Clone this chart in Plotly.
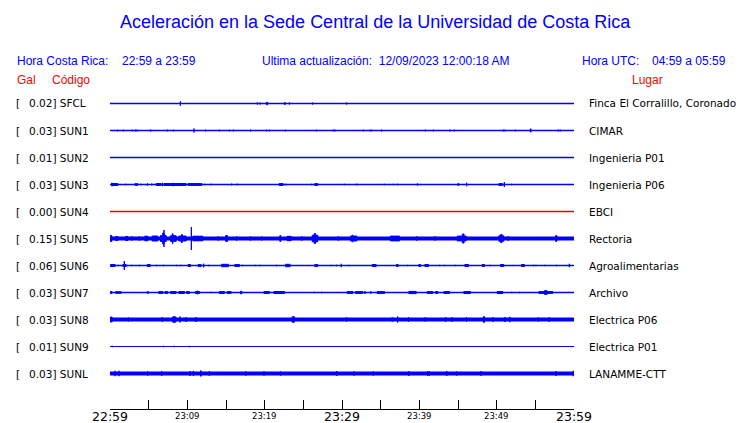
import plotly.graph_objects as go

W, H = 740, 423

TITLE = "Aceleración en la Sede Central de la Universidad de Costa Rica"
CODES = ["SFCL", "SUN1", "SUN2", "SUN3", "SUN4", "SUN5", "SUN6", "SUN7", "SUN8", "SUN9", "SUNL"]
GAL = [0.02, 0.03, 0.01, 0.03, 0.00, 0.15, 0.06, 0.03, 0.03, 0.01, 0.03]
PLACES = ["Finca El Corralillo, Coronado", "CIMAR", "Ingenieria P01", "Ingenieria P06", "EBCI",
          "Rectoria", "Agroalimentarias", "Archivo", "Electrica P06", "Electrica P01", "LANAMME-CTT"]
TICK_MIN = [0, 10, 20, 30, 40, 50, 60]
TICK_TEXT = ["22:59", "23:09", "23:19", "23:29", "23:39", "23:49", "23:59"]
TICK_BIG = [True, False, False, True, False, False, True]

# events: (start minute, end minute, half amplitude)
EV_SFCL = [(9.1, 9.1, 2.7), (16.8, 16.8, 0.8), (19.05, 19.05, 1.5), (19.4, 19.4, 1.5), (20.15, 20.45, 1.7),
           (22.45, 22.75, 1.3), (23.2, 23.2, 1.5), (26.2, 26.2, 1.5), (30.6, 30.6, 1.5)]
EV_SUN1 = [(0.99, 0.99, 1.3), (1.72, 1.72, 1.3), (2.89, 2.89, 1.3), (3.28, 3.28, 1.3), (3.49, 3.49, 1.3),
           (5.2, 5.35, 1.3), (7.41, 7.41, 1.3), (8.19, 8.19, 1.3), (10.86, 10.86, 2.5), (12.3, 12.45, 1.3),
           (14.14, 14.14, 1.3), (15.43, 15.43, 1.3), (15.95, 15.95, 1.3), (17.37, 17.37, 0.8), (18.1, 18.25, 1.3),
           (20.22, 20.22, 1.3), (20.6, 20.6, 1.3), (22.67, 22.67, 1.3), (25.65, 25.65, 0.8), (26.68, 26.68, 1.3),
           (27.59, 27.59, 0.8), (28.88, 28.88, 1.3), (29.09, 29.09, 1.3), (30.04, 30.04, 0.8), (32.76, 32.76, 1.3),
           (33.62, 33.62, 1.3), (33.84, 33.84, 1.3), (35.05, 35.2, 1.3), (37.16, 37.16, 0.8), (38.71, 38.71, 0.8),
           (40.78, 40.78, 1.3), (41.81, 41.81, 1.3), (43.97, 43.97, 1.3), (44.53, 44.53, 1.3), (46.85, 46.85, 0.8),
           (49.57, 49.57, 0.8), (50.86, 50.86, 1.3), (51.08, 51.08, 1.3), (52.41, 52.41, 1.3), (54.25, 54.5, 1.6),
           (54.4, 54.4, 2.3), (57.33, 57.33, 1.0), (57.97, 57.97, 1.3), (58.23, 58.23, 1.3)]
EV_SUN2 = []
EV_SUN3 = [(0.13, 1.08, 1.5), (0.25, 0.25, 2.2), (2.03, 2.03, 1.2), (3.15, 3.66, 1.3), (3.97, 3.97, 1.2),
           (4.4, 4.4, 1.0), (4.74, 4.96, 1.3), (5.39, 5.39, 1.3), (5.9, 6.68, 1.5), (6.77, 6.77, 2.2),
           (6.9, 9.91, 1.5), (8.19, 8.19, 2.2), (10.04, 11.94, 1.4), (12.2, 12.2, 1.2), (12.72, 12.72, 1.0),
           (13.06, 13.06, 1.2), (13.49, 13.49, 0.8), (15.09, 15.09, 1.0), (15.3, 15.3, 1.0), (15.73, 15.73, 1.3),
           (16.47, 16.47, 1.3), (17.16, 17.16, 1.0), (17.89, 17.89, 1.0), (20.22, 20.22, 0.8), (21.81, 22.46, 1.4),
           (22.76, 22.76, 1.3), (23.49, 23.49, 1.0), (24.18, 24.18, 1.0), (24.35, 24.35, 1.0), (24.96, 24.96, 1.0),
           (26.08, 26.08, 1.2), (26.42, 26.94, 1.4), (28.19, 28.19, 0.8), (30.3, 30.3, 1.2), (31.16, 31.16, 1.0),
           (31.9, 31.9, 1.3), (35.47, 35.47, 1.2), (36.64, 36.64, 1.2), (37.16, 37.16, 1.2), (39.66, 39.87, 1.3),
           (43.75, 43.75, 0.8), (44.53, 44.53, 1.0), (44.9, 45.2, 1.3), (46.12, 46.12, 2.2), (48.1, 48.1, 1.0),
           (50.22, 50.8, 1.4), (50.99, 50.99, 3.0), (51.94, 51.94, 1.2)]
EV_SUN4 = []
EV_SUN5 = [(0.0, 0.3, 3.5), (0.65, 1.08, 2.5), (1.94, 2.37, 2.5), (2.8, 2.8, 2.7), (3.79, 3.79, 2.7),
           (4.44, 4.96, 2.8), (5.39, 6.25, 3.0), (6.47, 7.33, 3.5), (6.75, 7.05, 6.0), (6.98, 6.98, 9.0),
           (7.76, 8.62, 3.3), (8.0, 8.2, 5.5), (8.84, 9.91, 3.0), (9.25, 9.35, 4.5), (10.52, 10.52, 12.0),
           (10.65, 12.07, 2.8), (14.0, 14.0, 2.7), (14.9, 15.25, 3.5), (16.38, 16.38, 2.7), (18.19, 18.19, 2.7),
           (19.61, 19.61, 2.5), (21.9, 22.15, 3.5), (22.84, 23.49, 2.7), (24.78, 24.78, 2.7), (26.08, 26.94, 3.8),
           (26.35, 26.65, 5.5), (29.53, 29.53, 2.7), (31.03, 31.98, 3.0), (31.25, 31.45, 4.0), (36.2, 37.5, 2.9),
           (39.66, 39.66, 2.7), (42.03, 42.03, 2.7), (44.83, 46.12, 2.9), (45.5, 45.85, 5.0), (50.22, 50.99, 3.2),
           (50.45, 50.75, 4.6), (51.51, 51.51, 3.0), (57.54, 57.89, 2.8), (57.7, 57.7, 4.0)]
EV_SUN6 = [(0.0, 0.73, 1.5), (1.08, 1.08, 1.2), (1.6, 2.16, 1.5), (1.85, 1.85, 5.0), (2.8, 2.8, 1.2),
           (3.79, 3.79, 1.2), (4.74, 5.26, 1.5), (6.03, 6.03, 1.2), (6.9, 6.9, 1.2), (8.19, 8.19, 1.0),
           (8.62, 8.62, 1.2), (9.18, 9.18, 1.2), (10.04, 10.47, 1.5), (11.34, 11.85, 1.5), (12.11, 12.11, 2.3),
           (12.8, 12.8, 1.2), (14.35, 15.39, 1.7), (16.08, 16.81, 1.5), (17.16, 17.16, 1.2), (18.75, 18.75, 1.2),
           (19.4, 19.4, 1.2), (21.12, 21.12, 1.0), (21.55, 21.55, 1.2), (22.63, 23.36, 1.7), (25.09, 25.09, 1.0),
           (26.42, 26.94, 1.5), (28.15, 28.15, 1.0), (28.58, 28.58, 1.2), (29.31, 29.31, 1.2), (29.91, 29.91, 2.2),
           (30.9, 30.9, 1.2), (32.59, 32.59, 1.0), (33.84, 34.48, 1.5), (35.56, 35.56, 0.8), (36.98, 37.33, 1.5),
           (38.49, 38.49, 1.2), (39.87, 40.22, 1.5), (40.65, 41.25, 1.5), (41.94, 41.94, 1.0), (42.63, 42.63, 1.2),
           (43.23, 43.23, 1.2), (44.09, 44.09, 1.0), (44.61, 44.61, 1.2), (45.82, 46.42, 1.5), (48.06, 48.49, 1.5),
           (49.14, 49.14, 1.2), (50.43, 50.99, 1.5), (53.15, 53.66, 1.5), (54.74, 54.74, 1.2), (55.09, 55.09, 1.2),
           (56.25, 56.25, 1.2), (57.76, 57.76, 1.2), (59.4, 59.4, 2.2)]
EV_SUN7 = [(0.0, 0.3, 1.5), (0.65, 1.51, 1.3), (1.85, 1.85, 1.0), (4.18, 4.18, 1.0), (4.74, 5.04, 1.3),
           (5.6, 5.6, 1.0), (6.25, 6.9, 1.4), (7.03, 7.54, 1.4), (7.76, 8.62, 1.4), (8.84, 9.7, 1.5),
           (9.83, 10.34, 1.4), (10.99, 11.64, 1.5), (11.3, 11.3, 2.3), (12.37, 12.37, 1.0), (13.06, 13.06, 1.2),
           (14.09, 14.87, 1.4), (15.09, 15.73, 1.4), (16.81, 17.11, 1.8), (17.67, 17.67, 1.0), (19.83, 20.69, 1.4),
           (21.12, 22.63, 1.5), (25.22, 25.22, 1.0), (26.42, 26.42, 1.2), (27.37, 27.37, 1.2), (29.53, 29.53, 1.0),
           (30.6, 31.47, 1.4), (31.68, 32.76, 1.4), (32.97, 32.97, 2.0), (33.62, 33.84, 1.3), (34.48, 35.56, 1.4),
           (38.58, 39.66, 1.6), (38.9, 38.9, 2.0), (40.95, 41.81, 1.4), (42.03, 42.46, 1.4), (43.1, 43.97, 1.4),
           (45.69, 46.68, 1.5), (47.72, 47.72, 1.0), (50.0, 50.86, 1.5), (51.59, 51.59, 1.0), (51.94, 51.94, 1.2),
           (52.93, 52.93, 1.2), (55.39, 57.33, 1.4), (56.1, 56.6, 2.3)]
EV_SUN8 = [(0.0, 0.35, 3.0), (2.37, 2.37, 2.5), (6.76, 6.76, 3.0), (8.0, 8.6, 3.0), (8.3, 8.3, 4.0),
           (9.05, 9.05, 3.5), (9.83, 9.83, 3.0), (11.12, 11.12, 3.0), (23.5, 23.9, 3.3), (30.6, 30.6, 2.7),
           (36.5, 36.5, 2.8), (37.2, 37.2, 3.5), (38.6, 38.6, 3.0), (40.74, 40.74, 2.6), (43.4, 43.4, 3.0),
           (44.2, 44.2, 2.8), (46.1, 46.1, 3.0), (48.2, 48.5, 3.3), (49.5, 49.5, 3.0), (51.07, 51.07, 3.0),
           (51.7, 51.7, 3.2), (55.4, 55.4, 2.6), (56.8, 56.8, 3.0)]
EV_SUN9 = [(0.3, 0.3, 1.2), (6.9, 6.9, 1.2), (8.3, 8.3, 1.2), (10.25, 10.25, 1.2), (11.93, 11.93, 1.0),
           (20.26, 20.26, 1.0), (22.72, 22.72, 1.0), (23.4, 23.4, 1.0), (35.8, 35.8, 1.0), (51.0, 51.0, 1.0)]
EV_SUNL = [(0.65, 0.65, 3.2), (1.16, 1.16, 3.2), (4.87, 4.87, 2.6), (6.68, 6.68, 3.0), (10.35, 10.35, 3.0),
           (10.78, 10.78, 3.0), (11.64, 11.86, 3.2), (12.84, 12.84, 2.8), (17.55, 17.55, 2.6), (19.91, 19.91, 2.6),
           (22.07, 22.07, 2.6), (29.32, 29.32, 3.0), (31.55, 31.55, 2.6), (34.05, 34.05, 2.6), (38.66, 38.66, 3.0),
           (41.08, 41.08, 2.8), (41.28, 41.28, 2.8), (43.54, 43.54, 3.0), (44.83, 44.83, 2.6), (47.97, 47.97, 2.8),
           (57.67, 57.67, 3.0), (59.91, 59.91, 3.2)]

EVENTS = [EV_SFCL, EV_SUN1, EV_SUN2, EV_SUN3, EV_SUN4, EV_SUN5, EV_SUN6, EV_SUN7, EV_SUN8, EV_SUN9, EV_SUNL]

# styles
BLUE = "#0000ff"
RED = "#ff0000"
LINE_COLORS = [BLUE, BLUE, BLUE, BLUE, "#ee0000", BLUE, BLUE, BLUE, BLUE, BLUE, BLUE]
LINE_WIDTHS = [1.5, 1.5, 1.5, 1.5, 1.3, 4.0, 1.5, 1.5, 4.0, 1.2, 4.0]
ROW_PX = 27.0
ROW0_PX = 103.5
STROKE_MIN = 0.5 * 60 / 464  # half a stroke in minutes
STROKE_ROW = 0.5 / ROW_PX     # half a stroke in row units

def px_x(x):
    return x / W

def px_y(y):
    return 1 - y / H

fig = go.Figure()
for i, code in enumerate(CODES):
    c = -i
    col = LINE_COLORS[i]
    fig.add_trace(go.Scatter(x=[0, 60], y=[c, c], mode="lines",
                             line=dict(color=col, width=LINE_WIDTHS[i]), hoverinfo="skip", showlegend=False))
    xs, ys = [], []
    for (t0, t1, a) in EVENTS[i]:
        d = max(a / ROW_PX - STROKE_ROW, 0.3 / ROW_PX)
        if t1 - t0 > 2 * STROKE_MIN:
            t0, t1 = t0 + STROKE_MIN, t1 - STROKE_MIN
        xs += [t0, t1, t1, t0, t0, None]
        ys += [c - d, c - d, c + d, c + d, c - d, None]
    if xs:
        fig.add_trace(go.Scatter(x=xs, y=ys, mode="lines", fill="toself", fillcolor=col,
                                 line=dict(color=col, width=1), hoverinfo="skip", showlegend=False))

ann = []
def text(x, y, s, size, color="black", family="Liberation Sans", xanchor="left"):
    ann.append(dict(x=px_x(x), y=px_y(y), xref="paper", yref="paper", text=s, showarrow=False,
                    xanchor=xanchor, yanchor="middle", font=dict(size=size, color=color, family=family)))

text(375, 22, TITLE, 18, BLUE, xanchor="center")
text(15, 61, "Hora Costa Rica:", 12, BLUE)
text(120, 61, "22:59 a 23:59", 12, BLUE)
text(260, 61, "Ultima actualización:&nbsp;&nbsp;12/09/2023 12:00:18 AM", 12, BLUE)
text(580, 61, "Hora UTC:", 12, BLUE)
text(650, 61, "04:59 a 05:59", 12, BLUE)
text(15, 80, "Gal", 12, RED)
text(50, 80, "Código", 12, RED)
text(630, 80, "Lugar", 12, RED)

for i, code in enumerate(CODES):
    yy = 103 + ROW_PX * i + 0.5
    text(14, yy, "[", 10.5, family="DejaVu Sans")
    text(27, yy, f"{GAL[i]:.2f}] {code}", 10.5, family="DejaVu Sans")
    text(587, yy, PLACES[i], 10.5, family="DejaVu Sans")

for tm, tt, big in zip(TICK_MIN, TICK_TEXT, TICK_BIG):
    ann.append(dict(x=tm, y=px_y(416.0 if big else 415.5), xref="x", yref="paper", text=tt, showarrow=False,
                    xanchor="center", yanchor="middle",
                    font=dict(size=12.5 if big else 8.5, color="black", family="DejaVu Sans")))

fig.update_layout(
    width=W, height=H, margin=dict(l=0, r=0, t=0, b=0),
    paper_bgcolor="white", plot_bgcolor="white", annotations=ann,
    xaxis=dict(range=[0, 60], domain=[110 / W, 574 / W], showgrid=False, zeroline=False,
               showline=True, linecolor="black", linewidth=1, ticks="inside", ticklen=9,
               tickcolor="black", tickwidth=1, tickmode="array", tickvals=list(range(0, 61, 5)),
               showticklabels=False, fixedrange=True),
    yaxis=dict(range=[-(409 - ROW0_PX) / ROW_PX, (ROW0_PX - 90) / ROW_PX], domain=[px_y(409), px_y(90)],
               visible=False, fixedrange=True),
)

fig.write_html("out.html", config={"displayModeBar": False},
               post_script="document.body.style.margin='0px';document.body.style.padding='0px';")
